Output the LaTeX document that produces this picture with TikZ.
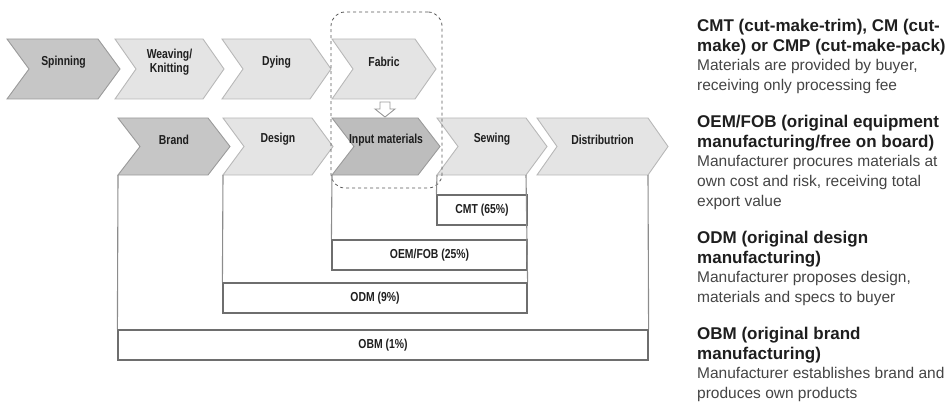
\documentclass[tikz,border=0pt]{standalone}
\usepackage{fontspec}
\setmainfont{Liberation Sans}
\newfontfamily\narrowsans[FakeStretch=0.8]{Liberation Sans}
\definecolor{chevdark}{HTML}{C6C6C6}
\definecolor{chevinput}{HTML}{BDBDBD}
\definecolor{chevlight}{HTML}{E4E4E4}
\definecolor{chevedge}{HTML}{9A9A9A}
\definecolor{lineclr}{HTML}{8C8C8C}
\definecolor{cellclr}{HTML}{6E6E6E}
\definecolor{inkdark}{HTML}{1E1E1E}
\definecolor{inkbody}{HTML}{444444}
\tikzset{
  darkchev/.style={fill=chevdark, draw=chevedge, line width=0.9pt},
  inputchev/.style={fill=chevinput, draw=chevedge, line width=0.9pt},
  lightchev/.style={fill=chevlight, draw=chevedge!70, line width=0.9pt},
  chevtext/.style={font=\narrowsans\bfseries\fontsize{13}{14}\selectfont, text=inkdark, align=center, inner sep=0pt},
  cell/.style={draw=cellclr, line width=1.2pt, font=\narrowsans\bfseries\fontsize{13}{13}\selectfont, text=inkdark, inner sep=0pt},
  boxline/.style={draw=lineclr, line width=1.1pt},
  headtext/.style={font=\bfseries\fontsize{17}{20}\selectfont, text=inkdark, align=left, inner sep=0pt, anchor=north west},
  bodytext/.style={font=\fontsize{15.5}{20}\selectfont, text=inkbody, align=left, inner sep=0pt, anchor=north west},
}
% chevron: name, left x, top-right x, tip x, top y, bottom y, style, label
\newcommand\chevronshape[8]{%
  \pgfmathsetmacro\cmid{(#5+#6)/2}%
  \pgfmathsetmacro\ctxt{#5+0.38*(#6-#5)}%
  \pgfmathsetmacro\cdep{#4-#3}%
  \filldraw[#7] (#2,#5) coordinate (#1-nw) -- (#3,#5) coordinate (#1-ne)
     -- (#4,\cmid) -- (#3,#6) coordinate (#1-se) -- (#2,#6) coordinate (#1-sw)
     -- ({#2+\cdep},\cmid) -- cycle;
  \node[chevtext] (#1) at ({(#2+\cdep+#3)/2},\ctxt) {#8};
}
\begin{document}
\begin{tikzpicture}[x=1pt,y=-1pt]
\useasboundingbox (0,0) rectangle (950,409);

% upstream row
\chevronshape{spin}{7}{98}{120}{39}{99}{darkchev}{Spinning}
\chevronshape{weave}{115}{203}{224}{39}{99}{lightchev}{Weaving/\\Knitting}
\chevronshape{dye}{222}{310}{331}{39}{99}{lightchev}{Dying}
\chevronshape{fabric}{332}{415}{436}{39}{99}{lightchev}{Fabric}

% garment row
\chevronshape{brand}{118}{208}{230}{118}{175}{darkchev}{Brand}
\chevronshape{design}{223}{312}{333}{118}{175}{lightchev}{Design}
\chevronshape{input}{332}{418}{440}{118}{175}{inputchev}{Input materials}
\chevronshape{sew}{437}{526}{547}{118}{175}{lightchev}{Sewing}
\chevronshape{dist}{537}{648}{668}{118}{175}{lightchev}{Distributrion}

% fabric feeds input materials
\filldraw[fill=white, draw=chevedge, line width=0.9pt]
  (380,102) -- (390,102) -- (390,109) -- (395,109) -- (385,117)
  -- (375,109) -- (380,109) -- cycle;

% highlighted materials stage
\node[draw=black!65, dashed, line width=0.8pt, rounded corners=14pt,
      minimum width=111pt, minimum height=176pt, inner sep=0pt] (focus) at (386.5,100) {};

% business model cells
\node[cell, minimum width=90pt, minimum height=30pt] (cmt) at (482,210) {CMT (65\%)};
\node[cell, minimum width=195pt, minimum height=30pt] (oem) at (429.5,255) {OEM/FOB (25\%)};
\node[cell, minimum width=304pt, minimum height=30pt] (odm) at (375,298) {ODM (9\%)};
\node[cell, minimum width=530pt, minimum height=30pt] (obm) at (383,345) {OBM (1\%)};

\draw[boxline] (sew-sw) -- (cmt.north west);
\draw[boxline] (input-sw) -- (oem.north west);
\draw[boxline] (design-sw) -- (odm.north west);
\draw[boxline] (sew-se) -- (odm.north east);
\draw[boxline] (brand-sw) -- (obm.north west);
\draw[boxline] (dist-se) -- (obm.north east);

% definitions
\node[headtext] (cmthead) at (697,19) {CMT (cut-make-trim), CM (cut-\\make) or CMP (cut-make-pack)};
\node[bodytext] (cmtbody) at (697,59.3) {Materials are provided by buyer,\\receiving only processing fee};
\node[headtext] (oemhead) at (697,115) {OEM/FOB (original equipment\\manufacturing/free on board)};
\node[bodytext] (oembody) at (697,155.3) {Manufacturer procures materials at\\own cost and risk, receiving total\\export value};
\node[headtext] (odmhead) at (697,231) {ODM (original design\\manufacturing)};
\node[bodytext] (odmbody) at (697,271.3) {Manufacturer proposes design,\\materials and specs to buyer};
\node[headtext] (obmhead) at (697,327) {OBM (original brand\\manufacturing)};
\node[bodytext] (obmbody) at (697,367.3) {Manufacturer establishes brand and\\produces own products};
\end{tikzpicture}
\end{document}
